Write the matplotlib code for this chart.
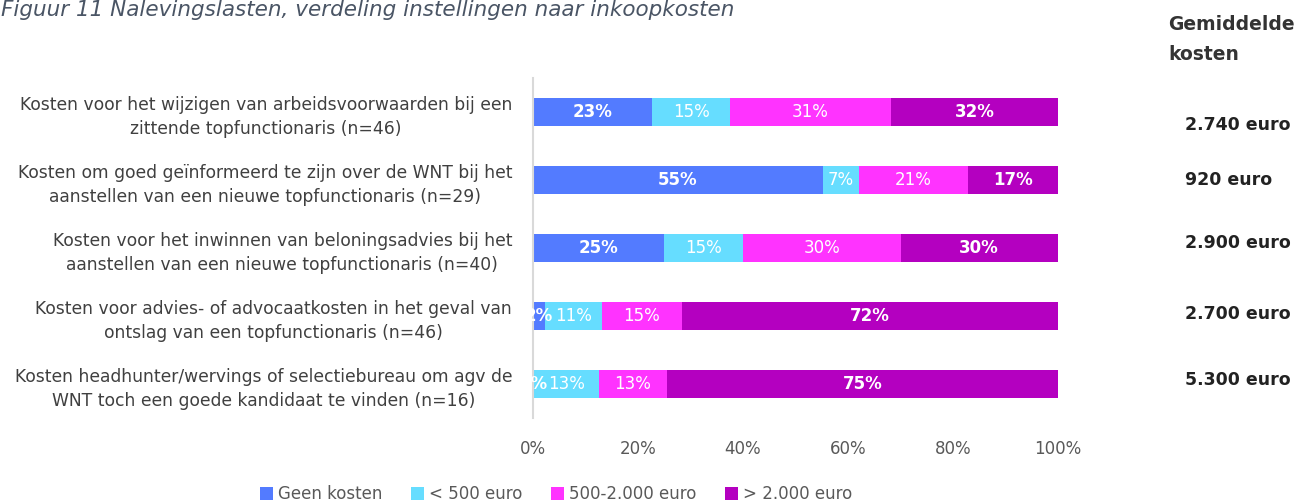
import matplotlib.pyplot as plt
import numpy as np

# data
categories = [
    "Kosten voor het wijzigen van arbeidsvoorwaarden bij een\nzittende topfunctionaris (n=46)",
    "Kosten om goed geïnformeerd te zijn over de WNT bij het\naanstellen van een nieuwe topfunctionaris (n=29)",
    "Kosten voor het inwinnen van beloningsadvies bij het\naanstellen van een nieuwe topfunctionaris (n=40)",
    "Kosten voor advies- of advocaatkosten in het geval van\nontslag van een topfunctionaris (n=46)",
    "Kosten headhunter/wervings of selectiebureau om agv de\nWNT toch een goede kandidaat te vinden (n=16)",
]
geen_kosten = [22.7, 55.2, 25.0, 2.2, 0.0]
onder_500 = [14.8, 6.9, 15.0, 10.9, 12.6]
tussen_500_2000 = [30.7, 20.7, 30.0, 15.2, 12.9]
boven_2000 = [31.8, 17.2, 30.0, 71.7, 74.5]
gemiddelde = ["2.740 euro", "920 euro", "2.900 euro", "2.700 euro", "5.300 euro"]
gem_y = [125, 180, 243, 314, 380]  # pixel rows of the right-hand column

series = [
    ("Geen kosten", geen_kosten, "#537bff", "bold"),
    ("< 500 euro", onder_500, "#66ddff", "normal"),
    ("500-2.000 euro", tussen_500_2000, "#ff33ff", "normal"),
    ("> 2.000 euro", boven_2000, "#b400c0", "bold"),
]

fig = plt.figure(figsize=(13.16, 5.04), dpi=100)
ax = fig.add_axes([533 / 1316, 1 - 418 / 504, 525 / 1316, 340 / 504])

y = np.arange(len(categories))
left = np.zeros(len(categories))
for name, vals, col, w in series:
    vals = np.array(vals)
    ax.barh(y, vals, left=left, height=0.4, color=col, label=name)
    for yi, (l, v) in enumerate(zip(left, vals)):
        ax.text(l + v / 2, yi, f"{int(v + 0.5)}%", ha="center", va="center",
                color="white", fontsize=12, fontweight=w)
    left = left + vals

ax.set_xlim(0, 100)
ax.set_ylim(len(categories) - 0.5, -0.5)
ax.set_yticks(y)
ax.set_yticklabels(categories, fontsize=12.3, color="#404040", multialignment="center",
                   linespacing=1.4)
ax.set_xticks(np.arange(0, 101, 20))
ax.set_xticklabels([f"{v}%" for v in range(0, 101, 20)], fontsize=12, color="#595959")
ax.tick_params(axis="both", length=0)
ax.tick_params(axis="x", pad=16)
ax.tick_params(axis="y", pad=15)
for s in ["top", "right", "bottom"]:
    ax.spines[s].set_visible(False)
ax.spines["left"].set_color("#d9d9d9")
ax.spines["left"].set_linewidth(1.5)

# right column
fig.text(1168 / 1316, 1 - 24 / 504, "Gemiddelde", fontsize=13.5, fontweight="bold",
         color="#333333", va="center", ha="left")
fig.text(1168 / 1316, 1 - 55 / 504, "kosten", fontsize=13.5, fontweight="bold",
         color="#333333", va="center", ha="left")
for txt, py in zip(gemiddelde, gem_y):
    fig.text(1185 / 1316, 1 - py / 504, txt, fontsize=12.5,
             fontweight="bold", color="#222222", va="center", ha="left")

# title
fig.text(1 / 1316, 1 - 10 / 504, "Figuur 11 Nalevingslasten, verdeling instellingen naar inkoopkosten",
         fontsize=15.5, style="italic", color="#4a5565", va="center", ha="left")

fig.legend(loc="center", bbox_to_anchor=(556 / 1316, 1 - 494 / 504), ncol=4, frameon=False,
           fontsize=12, handlelength=0.8, handleheight=0.8, handletextpad=0.3,
           columnspacing=1.7, labelcolor="#595959")

fig.savefig("out.png", dpi=100)
